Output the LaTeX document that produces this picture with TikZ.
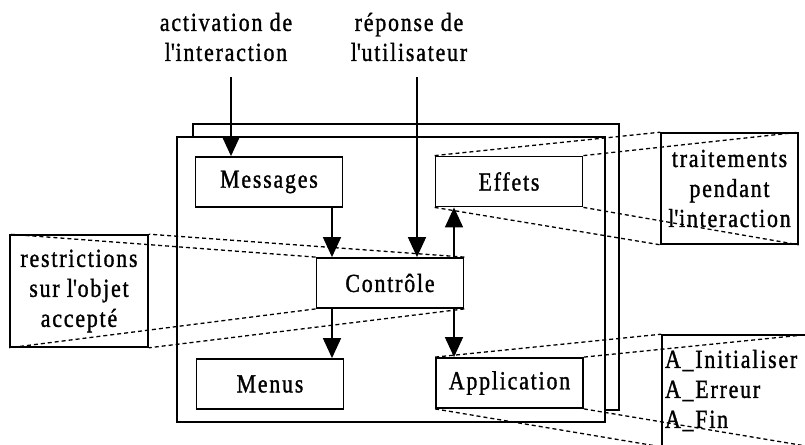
\documentclass[tikz,border=0pt]{standalone}
\usepackage{fontspec}
\setmainfont{Liberation Serif}[FakeStretch=0.84,LetterSpace=7,FakeBold=1.2]
\usetikzlibrary{arrows.meta}
\newcommand{\apo}{\textquotesingle}
\begin{document}
\begin{tikzpicture}[x=1pt,y=-1pt,
  font=\fontsize{26}{30}\selectfont,
  box/.style={draw,line width=1.8pt,fill=white,inner sep=0pt,minimum width=147pt,minimum height=50pt},
  frame/.style={draw,line width=1.8pt,fill=white,inner sep=0pt},
  note/.style={draw,line width=1.6pt,inner sep=0pt,align=center},
  arr/.style={line width=1.6pt,-{Triangle[length=20pt,width=18pt]}},
  proj/.style={line width=1.3pt,dash pattern=on 4pt off 3pt}]
\clip (0,0) rectangle (805,444);
\fill[white] (0,0) rectangle (805,444);
% frames
\node[frame,minimum width=426pt,minimum height=286pt] (back) at (406,267) {};
\node[frame,minimum width=428pt,minimum height=285pt] (front) at (391,279.5) {};
% boxes
\node[box] (msg) at (269,182) {Messages};
\node[box] (eff) at (509,181.5) {Effets};
\node[box] (ctl) at (390,283) {Contrôle};
\node[box] (men) at (270,384) {Menus};
\node[box] (app) at (509.5,383) {Application};
% labels
\node[align=center,inner sep=0pt] (lact) at (226,37) {activation de\\l\apo interaction};
\node[align=center,inner sep=0pt] (lrep) at (409,37) {réponse de\\l\apo utilisateur};
\coordinate (act) at (231,77);
\coordinate (rep) at (417,77);
% notes
\node[note,minimum width=137pt,minimum height=111pt] (trt) at (729.5,188.5) {traitements\\pendant\\l\apo interaction};
\node[note,minimum width=138pt,minimum height=112pt] (rst) at (79,291) {restrictions\\sur l\apo objet\\accepté};
\node[note,minimum width=148pt,minimum height=111pt,text width=142pt,align=left] (api) at (736,390.5) {A\_Initialiser\\A\_Erreur\\A\_Fin};
% arrows
\draw[arr] (act) -- (act |- msg.north);
\draw[arr] (rep) -- (rep |- ctl.north);
\coordinate (c1) at (332,0);
\coordinate (c2) at (454,0);
\draw[arr] (c1 |- msg.south) -- (c1 |- ctl.north);
\draw[arr] (c1 |- ctl.south) -- (c1 |- men.north);
\draw[arr] (c2 |- ctl.north) -- (c2 |- eff.south);
\draw[arr] (c2 |- ctl.south) -- (c2 |- app.north);
% projection lines
\draw[proj] (eff.north west) -- (trt.north west);
\draw[proj] (eff.north east) -- (trt.north east);
\draw[proj] (eff.south west) -- (trt.south west);
\draw[proj] (eff.south east) -- (trt.south east);
\draw[proj] (ctl.north west) -- (rst.north west);
\draw[proj] (ctl.north east) -- (rst.north east);
\draw[proj] (ctl.south west) -- (rst.south west);
\draw[proj] (ctl.south east) -- (rst.south east);
\draw[proj] (app.north west) -- (api.north west);
\draw[proj] (app.north east) -- (api.north east);
\draw[proj] (app.south west) -- (api.south west);
\draw[proj] (app.south east) -- (api.south east);
\end{tikzpicture}
\end{document}
